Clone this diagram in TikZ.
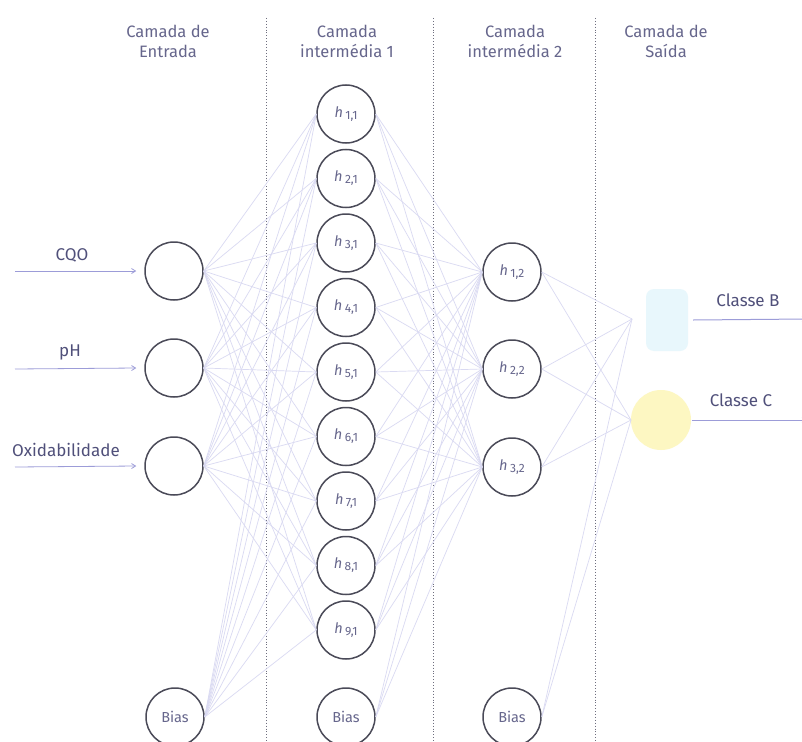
\documentclass[tikz,border=0pt]{standalone}
\usepackage{fontspec}
\setmainfont{Fira Sans}
\usetikzlibrary{arrows.meta}
\definecolor{txt}{HTML}{66668C}
\definecolor{txtd}{HTML}{50507A}
\definecolor{edgec}{HTML}{DADAF2}
\definecolor{ring}{HTML}{4A4A58}
\definecolor{arr}{HTML}{9C9CD8}
\definecolor{sepc}{HTML}{6E6E7E}
\definecolor{blueo}{HTML}{E8F7FC}
\definecolor{yellowo}{HTML}{FDF7C2}
\newcommand{\hlab}[1]{{\itshape h}\,\raisebox{-2pt}{\fontsize{12}{12}\selectfont #1}}
\begin{document}
\begin{tikzpicture}[x=1pt,y=-1pt,
  neuron/.style={circle,draw=ring,line width=1.5pt,minimum size=58pt,inner sep=0pt,fill=white,text=txt,font=\fontsize{14.5}{14.5}\selectfont},
  conn/.style={draw=edgec,line width=0.7pt},
  header/.style={align=center,text=txt,font=\fontsize{16.5}{20}\selectfont},
  inlabel/.style={text=txtd,font=\fontsize{17}{17}\selectfont},
  sepline/.style={draw=sepc,dotted,line width=0.9pt},
  inarrow/.style={draw=arr,line width=0.8pt,-{Straight Barb[length=4pt,width=5pt]}},
  outarrow/.style={draw=arr,line width=1pt,-{Straight Barb[length=4pt,width=6pt]}}
]
\useasboundingbox (0,0) rectangle (802,741);
\clip (0,0) rectangle (802,741);
\fill[white] (0,0) rectangle (802,741);

% headers
\node[header] (t0) at (168,41) {Camada de\\Entrada};
\node[header] (t1) at (347,41) {Camada\\intermédia 1};
\node[header] (t2) at (515,41) {Camada\\intermédia 2};
\node[header] (t3) at (666,41) {Camada de\\Saída};

% separators
\draw[sepline] (266,18) -- (266,741);
\draw[sepline] (433,18) -- (433,741);
\draw[sepline] (595,18) -- (595,741);

% input layer
\node[neuron] (i1) at (174,271) {};
\node[neuron] (i2) at (174,368) {};
\node[neuron] (i3) at (174,466) {};
\node[neuron] (b0) at (175,717) {Bias};

% hidden layer 1
\foreach \k in {1,...,9}{
  \node[neuron] (h\k) at (346,{114+64.5*(\k-1)}) {\hlab{\k,1}};
}
\node[neuron] (b1) at (346,717) {Bias};

% hidden layer 2
\node[neuron] (g1) at (512,272) {\hlab{1,2}};
\node[neuron] (g2) at (512,369) {\hlab{2,2}};
\node[neuron] (g3) at (512,467) {\hlab{3,2}};
\node[neuron] (b2) at (512,717) {Bias};

% output layer
\node[rectangle,fill=blueo,minimum width=42pt,minimum height=62pt,rounded corners=8pt] (oB) at (667,320) {};
\node[circle,fill=yellowo,minimum size=60pt,inner sep=0pt] (oC) at (661,420) {};
\coordinate (inB) at (632,319);
\coordinate (inC) at (631,420);

% connections
\foreach \s in {i1,i2,i3,b0}{
  \foreach \t in {1,...,9}{
    \draw[conn] (\s.east) -- (h\t.west);
  }
}
\foreach \s in {1,...,9}{
  \foreach \t in {g1,g2,g3}{
    \draw[conn] (h\s.east) -- (\t.west);
  }
}
\foreach \t in {g1,g2,g3}{ \draw[conn] (b1.east) -- (\t.west); }
\foreach \s in {g1,g2,g3,b2}{
  \draw[conn] (\s.east) -- (inB);
  \draw[conn] (\s.east) -- (inC);
}

% inputs
\coordinate (a1) at (15,271);
\coordinate (a2) at (15,369);
\coordinate (a3) at (15,467);
\draw[inarrow] (a1) -- ([xshift=-8pt]i1.west);
\draw[inarrow] (a2) -- ([xshift=-8pt]i2.west);
\draw[inarrow] (a3) -- ([xshift=-8pt]i3.west);
\node[inlabel] (l1) at (72,255) {CQO};
\node[inlabel] (l2) at (70,352) {pH};
\node[inlabel] (l3) at (66,450) {Oxidabilidade};

% outputs
\coordinate (eB) at (807,319);
\coordinate (eC) at (807,420);
\draw[outarrow] ([xshift=5pt]oB.east) -- (eB);
\draw[outarrow] ([xshift=1pt]oC.east) -- (eC);
\node[inlabel] (lB) at (748,300) {Classe B};
\node[inlabel] (lC) at (741,400) {Classe C};
\end{tikzpicture}
\end{document}
